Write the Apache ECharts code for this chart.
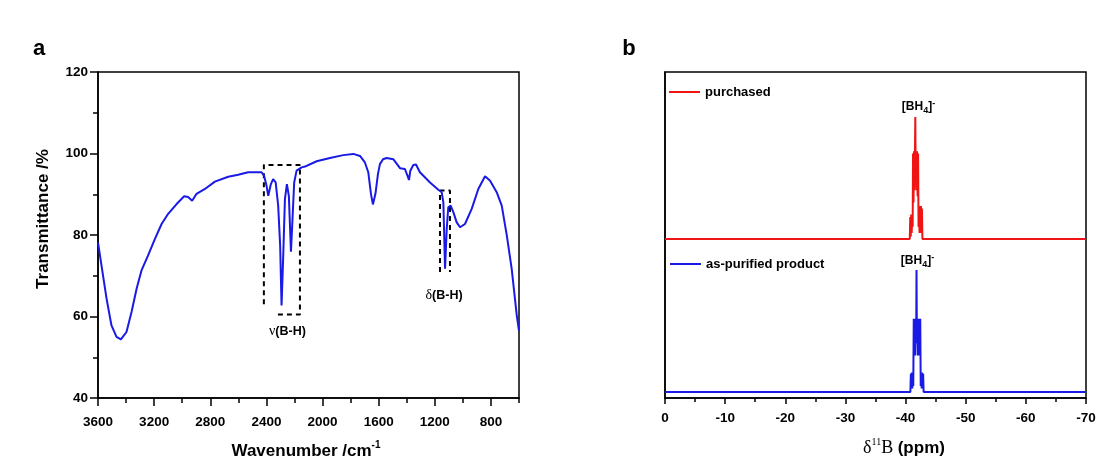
<!DOCTYPE html>
<html>
<head>
<meta charset="utf-8">
<script src="https://cdn.jsdelivr.net/npm/echarts@6/dist/echarts.min.js"></script>
<style>
html,body{margin:0;padding:0;background:#fff;}
#c{width:1119px;height:473px;}
</style>
</head>
<body>
<div id="c"></div>
<script>
// ---------- data ----------
// Panel a: FT-IR spectrum (wavenumber cm-1, transmittance %)
const irWn = [3600,3575,3539,3504,3468,3437,3397,3361,3325,3290,3243,3195,3147,3100,3040,2986,2958,2929,2898,2838,2767,2672,2601,2530,2434,2416,2399,2387,2368,2352,2334,2316,2302,2292,2280,2268,2254,2240,2225,2213,2202,2185,2149,2125,2042,1947,1852,1781,1733,1698,1674,1655,1641,1623,1605,1591,1569,1543,1496,1448,1413,1391,1384,1375,1353,1334,1306,1234,1175,1151,1139,1127,1115,1104,1087,1068,1044,1020,985,937,890,842,806,759,723,687,652,616,600];
const irT = [78.2,72.5,64.4,57.8,55.0,54.4,56.2,61.1,66.8,71.3,75.0,79.0,82.7,85.2,87.6,89.5,89.3,88.4,90.1,91.3,93.1,94.3,94.8,95.4,95.4,94.5,92.1,89.6,92.5,93.7,92.9,87.2,77.4,62.7,75.0,88.8,92.5,89.6,75.9,84.7,92.9,95.8,96.6,96.8,98.1,98.9,99.6,99.9,99.4,97.8,95.4,90.1,87.5,90.1,95.0,97.4,98.6,98.9,98.6,96.4,96.2,94.2,93.5,95.7,97.2,97.3,95.4,92.9,91.1,90.5,88.0,71.7,81.5,86.8,87.2,85.6,83.1,81.9,82.7,86.4,91.3,94.4,93.3,90.5,87.2,79.9,71.7,60.3,56.5];
// dashed boxes marking the B-H bands (data coordinates)
const boxNuWn = [2418,2418,2161,2161,2339];
const boxNuT  = [63.0,97.2,97.2,60.5,60.5];
const boxDeltaWn = [1163,1163,1092,1092];
const boxDeltaT  = [70.9,90.9,90.9,70.9];
// tick values of panel a x axis
const wnMajorTicks = [800,1200,1600,2000,2400,2800,3200,3600];
const wnMinorTicks = [600,1000,1400,1800,2200,2600,3000,3400];

// Panel b: 11B NMR (ppm, normalized intensity)
const redPpm = [0,-40.70,-40.78,-40.86,-40.94,-41.02,-41.10,-41.18,-41.24,-41.32,-41.40,-41.48,-41.56,-41.62,-41.68,-41.76,-41.84,-41.92,-42.00,-42.08,-42.16,-42.24,-42.32,-42.40,-42.48,-42.56,-42.64,-42.72,-42.80,-70];
const redI   = [0,0,0.18,0.02,0.2,0.05,0.2,0.1,0.7,0.3,0.72,0.4,0.72,1.0,0.5,0.72,0.4,0.72,0.35,0.7,0.1,0.27,0.05,0.27,0.05,0.27,0.05,0.25,0,0];
const bluePpm = [0,-40.80,-40.88,-40.96,-41.04,-41.12,-41.20,-41.28,-41.36,-41.44,-41.52,-41.60,-41.68,-41.76,-41.82,-41.88,-41.96,-42.04,-42.12,-42.20,-42.28,-42.36,-42.44,-42.52,-42.60,-42.68,-42.76,-42.84,-42.92,-43.00,-70];
const blueI   = [0,0,0.15,0.03,0.16,0.03,0.16,0.05,0.6,0.3,0.6,0.3,0.6,0.4,1.0,0.45,0.6,0.3,0.6,0.3,0.6,0.3,0.6,0.05,0.16,0.03,0.16,0.03,0.15,0,0];
const redOffset = 1.303;   // vertical stacking offset of the upper trace
const blueOffset = 0.049;

// ---------- build ----------
const F = '"Liberation Sans", Arial, sans-serif';
const FS = '"Liberation Serif", "Times New Roman", serif';
const zip = (xs, ys, off) => xs.map((x, i) => [x, ys[i] + (off || 0)]);

const bhRich = {
  a: {fontFamily: F, fontWeight: 'bold', fontSize: 12, color: '#000', lineHeight: 16},
  b: {fontFamily: F, fontWeight: 'bold', fontSize: 9, color: '#000', verticalAlign: 'bottom', lineHeight: 10},
  c: {fontFamily: F, fontWeight: 'bold', fontSize: 9, color: '#000', verticalAlign: 'top', lineHeight: 10}
};
const bandRich = {
  g: {fontFamily: FS, fontSize: 14, color: '#000'},
  a: {fontFamily: F, fontWeight: 'bold', fontSize: 12.5, color: '#000'}
};
const labelPoint = (coord, text, rich) => ({
  symbol: 'circle', symbolSize: 1, silent: true,
  itemStyle: {color: 'rgba(0,0,0,0)'},
  label: {show: true, position: 'inside', formatter: text, rich: rich},
  data: [{coord: coord}]
});

const tickLabel = {fontFamily: F, fontWeight: 'bold', fontSize: 13.5, color: '#000', formatter: v => String(v)};
const axisLine = {show: true, onZero: false, lineStyle: {color: '#000', width: 1.5}};

const chart = echarts.init(document.getElementById('c'), null, {renderer: 'canvas'});
chart.setOption({
  animation: false,
  backgroundColor: '#fff',
  grid: [
    {left: 98, right: 600, top: 72, bottom: 75, show: true, borderColor: '#000', borderWidth: 1.5, containLabel: false},
    {left: 665, right: 33, top: 72, bottom: 75, show: true, borderColor: '#000', borderWidth: 1.5, containLabel: false}
  ],
  xAxis: [
    {gridIndex: 0, type: 'value', min: 600, max: 3600, inverse: true, position: 'bottom',
     axisLine: axisLine,
     axisTick: {show: true, length: 8, customValues: wnMajorTicks, lineStyle: {color: '#000', width: 1.5}},
     axisLabel: Object.assign({margin: 17, customValues: wnMajorTicks}, tickLabel),
     splitLine: {show: false}},
    {gridIndex: 0, type: 'value', min: 600, max: 3600, inverse: true, position: 'bottom',
     axisLine: {show: false},
     axisTick: {show: true, length: 5, customValues: wnMinorTicks, lineStyle: {color: '#000', width: 1.5}},
     axisLabel: {show: false}, splitLine: {show: false}},
    {gridIndex: 1, type: 'value', min: -70, max: 0, interval: 10, inverse: true, position: 'bottom',
     axisLine: axisLine,
     axisTick: {show: true, length: 6, lineStyle: {color: '#000', width: 1.5}},
     minorTick: {show: true, splitNumber: 2, length: 4, lineStyle: {color: '#000', width: 1.5}},
     axisLabel: Object.assign({margin: 13}, tickLabel),
     splitLine: {show: false}}
  ],
  yAxis: [
    {gridIndex: 0, type: 'value', min: 40, max: 120, interval: 20,
     axisLine: axisLine,
     axisTick: {show: true, length: 8, lineStyle: {color: '#000', width: 1.5}},
     minorTick: {show: true, splitNumber: 2, length: 5, lineStyle: {color: '#000', width: 1.5}},
     axisLabel: Object.assign({margin: 10}, tickLabel),
     splitLine: {show: false}},
    {gridIndex: 1, type: 'value', min: 0, max: 2.672,
     axisLine: axisLine, axisTick: {show: false}, axisLabel: {show: false}, splitLine: {show: false}}
  ],
  legend: [
    {data: ['purchased'], left: 669, top: 85, padding: 0, icon: 'rect', itemWidth: 31, itemHeight: 2,
     itemGap: 5, selectedMode: false,
     textStyle: {fontFamily: F, fontWeight: 'bold', fontSize: 13, color: '#000', lineHeight: 14}},
    {data: ['as-purified product'], left: 670, top: 257, padding: 0, icon: 'rect', itemWidth: 31, itemHeight: 2,
     itemGap: 5, selectedMode: false,
     textStyle: {fontFamily: F, fontWeight: 'bold', fontSize: 13, color: '#000', lineHeight: 14}}
  ],
  series: [
    {name: 'boxNu', type: 'line', xAxisIndex: 0, yAxisIndex: 0, data: zip(boxNuWn, boxNuT),
     showSymbol: false, silent: true, z: 1,
     lineStyle: {color: '#000', width: 2, type: [5, 4]},
     markPoint: labelPoint([2250, 56.4], '{g|ν}{a|(B-H)}', bandRich)},
    {name: 'boxDelta', type: 'line', xAxisIndex: 0, yAxisIndex: 0, data: zip(boxDeltaWn, boxDeltaT),
     showSymbol: false, silent: true, z: 1,
     lineStyle: {color: '#000', width: 2, type: [5, 4]},
     markPoint: labelPoint([1134, 65.2], '{g|δ}{a|(B-H)}', bandRich)},
    {name: 'IR', type: 'line', xAxisIndex: 0, yAxisIndex: 0, data: zip(irWn, irT),
     showSymbol: false, silent: true, z: 3,
     lineStyle: {color: '#1a1ae6', width: 2}},
    {name: 'purchased', type: 'line', xAxisIndex: 2, yAxisIndex: 1, data: zip(redPpm, redI, redOffset),
     showSymbol: false, silent: true, z: 3, itemStyle: {color: '#f01515'},
     lineStyle: {color: '#f01515', width: 2},
     markPoint: labelPoint([-42.15, 2.385], '{a|[BH}{b|4}{a|]}{c|-}', bhRich)},
    {name: 'as-purified product', type: 'line', xAxisIndex: 2, yAxisIndex: 1, data: zip(bluePpm, blueI, blueOffset),
     showSymbol: false, silent: true, z: 3, itemStyle: {color: '#1a1ae6'},
     lineStyle: {color: '#1a1ae6', width: 2},
     markPoint: labelPoint([-41.98, 1.123], '{a|[BH}{b|4}{a|]}{c|-}', bhRich)}
  ],
  graphic: [
    {type: 'text', x: 39, y: 49, style: {text: 'a', font: 'bold 22px ' + F, fill: '#000', align: 'center', verticalAlign: 'middle'}},
    {type: 'text', x: 629, y: 49, style: {text: 'b', font: 'bold 22px ' + F, fill: '#000', align: 'center', verticalAlign: 'middle'}},
    {type: 'text', x: 43, y: 219, rotation: Math.PI / 2,
     style: {text: 'Transmittance /%', font: 'bold 17px ' + F, fill: '#000', align: 'center', verticalAlign: 'middle'}},
    {type: 'text', x: 306, y: 451,
     style: {text: '{a|Wavenumber /cm}{s|-1}', align: 'center', verticalAlign: 'middle',
       rich: {a: {fontFamily: F, fontWeight: 'bold', fontSize: 17, color: '#000', lineHeight: 22},
              s: {fontFamily: F, fontWeight: 'bold', fontSize: 10, color: '#000', verticalAlign: 'top', lineHeight: 10}}}},
    {type: 'text', x: 904, y: 448,
     style: {text: '{g|δ}{s|11}{g|B }{b|(ppm)}', align: 'center', verticalAlign: 'middle',
       rich: {g: {fontFamily: FS, fontSize: 18, color: '#000', lineHeight: 22},
              s: {fontFamily: FS, fontSize: 10, color: '#000', verticalAlign: 'top', lineHeight: 10},
              b: {fontFamily: F, fontWeight: 'bold', fontSize: 17, color: '#000', lineHeight: 22}}}}
  ]
});
</script>
</body>
</html>
